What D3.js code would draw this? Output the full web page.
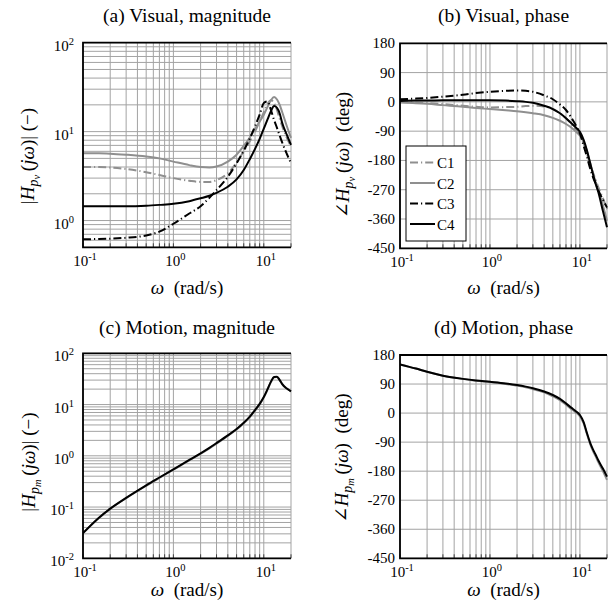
<!DOCTYPE html>
<html><head><meta charset="utf-8">
<script src="https://cdn.jsdelivr.net/npm/d3@7"></script>
<style>body{margin:0;background:#fff}svg{display:block}</style>
</head><body>
<svg id="chart" width="613" height="614"></svg>
<script>
// ---------- data ----------
const omega = [0.1,0.15,0.2,0.3,0.5,0.7,1,1.5,2,2.5,3,4,5,6,7,8,9,10,11,12,13,14,15,16,18,20];
const seriesNames = ["C1","C2","C3","C4"];

// (a) Visual magnitude |H_pv|
const magVisC1 = [4.0,4.0,3.95,3.8,3.5,3.25,3.0,2.8,2.72,2.72,2.85,3.4,4.5,6.0,7.8,10,13,16.5,20.5,22.5,21,17.5,14,11.5,8.5,6.8];
const magVisC2 = [5.7,5.7,5.65,5.5,5.25,5.0,4.6,4.2,4.0,3.95,4.05,4.6,5.5,6.9,8.6,10.7,13,15.5,19,22.5,24.5,23,20,16.5,11.5,8.5];
const magVisC3 = [0.615,0.62,0.625,0.64,0.68,0.75,0.92,1.2,1.45,1.8,2.2,3.1,4.4,6.1,8.4,11.5,15.5,21,21.8,17.5,13.5,11,9,7.5,5.6,4.4];
const magVisC4 = [1.45,1.45,1.45,1.45,1.47,1.5,1.54,1.65,1.78,1.9,2.05,2.4,2.9,3.7,4.9,6.4,8.3,10.8,13.7,17,19.4,18.5,16,12.5,9.2,7.1];

// (b) Visual phase (deg)
const phVisC1 = [0,-2,-4,-7,-12,-15,-17,-16,-15,-13,-12,-14,-22,-35,-50,-67,-85,-100,-128,-160,-192,-218,-240,-262,-296,-330];
const phVisC2 = [-2,-4,-6,-10,-15,-19,-22,-26,-29,-32,-35,-41,-49,-58,-68,-79,-91,-104,-122,-153,-188,-220,-248,-270,-318,-365];
const phVisC3 = [8,10,12,16,22,27,31,34,35,34,31,20,8,-8,-25,-48,-72,-98,-135,-170,-205,-232,-252,-272,-300,-325];
const phVisC4 = [3,4,4,5,5,5,5,4,2,0,-3,-12,-22,-35,-50,-65,-79,-92,-117,-150,-188,-223,-253,-277,-335,-385];

// (c) Motion magnitude |H_pm|
const magMotGray  = [0.031,0.061,0.092,0.149,0.26,0.37,0.535,0.81,1.1,1.4,1.73,2.45,3.25,4.3,5.7,7.6,10.1,13.8,19.6,27.5,34,34.5,30,25,20.5,18];
const magMotBlack = [0.031,0.062,0.093,0.151,0.265,0.377,0.546,0.83,1.12,1.43,1.77,2.5,3.33,4.4,5.8,7.8,10.3,14,20,28,34.5,35,30,25,20.5,18];

// (d) Motion phase (deg)
const phMotGray  = [151,138,128,116,106,100,96,90,85,80,74,64,52,40,26,13,2,-10,-32,-66,-96,-118,-135,-152,-180,-207];
const phMotBlack = [151,138,128,116,106,101,97,92,87,82,77,67,56,44,30,17,6,-6,-28,-63,-92,-113,-130,-146,-172,-197];

const decadeLabels = ["-2","-1","0","1","2"];
const phaseTicks = [180,90,0,-90,-180,-270,-360,-450];

// ---------- drawing ----------
const svg = d3.select("#chart");
svg.append("rect").attr("width",613).attr("height",614).attr("fill","#fff");
const FONT = '"Liberation Serif", "DejaVu Serif", serif';
const GRID = "#a3a3a3";
const GRAY = "#8f8f8f";
const DASH = "8,3,1.2,3";

function txt(sel) { return sel.append("text").style("font-family", FONT); }

const styles = {
  C1:{color:GRAY, dash:DASH},
  C2:{color:GRAY, dash:null},
  C3:{color:"#000", dash:DASH},
  C4:{color:"#000", dash:null},
  G:{color:GRAY, dash:null},
  B:{color:"#000", dash:null}
};

const panels = [
  {id:"a", l:83, r:291, t:42.7, b:247.3, type:"log", yDomain:[0.5,100], title:"(a) Visual, magnitude",
   titleY:21.5, xlabY:294, ylabX:34, ylabY:156, sub:"v", phase:false,
   series:[["C1",magVisC1],["C2",magVisC2],["C3",magVisC3],["C4",magVisC4]]},
  {id:"b", l:400, r:607, t:43.3, b:248.3, type:"lin", yDomain:[-450,180], title:"(b) Visual, phase",
   titleY:21.5, xlabY:294, ylabX:349, ylabY:155, sub:"v", phase:true, legend:true,
   series:[["C1",phVisC1],["C2",phVisC2],["C3",phVisC3],["C4",phVisC4]]},
  {id:"c", l:83, r:291, t:353.3, b:558.3, type:"log", yDomain:[0.01,100], title:"(c) Motion, magnitude",
   titleY:334, xlabY:596, ylabX:35, ylabY:462, sub:"m", phase:false,
   series:[["G",magMotGray],["B",magMotBlack]]},
  {id:"d", l:400, r:607, t:355, b:558.3, type:"lin", yDomain:[-450,180], title:"(d) Motion, phase",
   titleY:334, xlabY:596, ylabX:348, ylabY:458, sub:"m", phase:true,
   series:[["G",phMotGray],["B",phMotBlack]]}
];

panels.forEach(p => {
  const g = svg.append("g");
  const x = d3.scaleLog().domain([0.1,20]).range([p.l,p.r]);
  const y = (p.type==="log" ? d3.scaleLog() : d3.scaleLinear()).domain(p.yDomain).range([p.b,p.t]);

  // grid
  const xg = x.ticks();
  g.selectAll(null).data(xg).enter().append("line")
    .attr("x1",d=>x(d)).attr("x2",d=>x(d)).attr("y1",p.t).attr("y2",p.b)
    .attr("stroke",GRID).attr("stroke-width",1);
  const yg = p.type==="log" ? y.ticks() : phaseTicks;
  g.selectAll(null).data(yg).enter().append("line")
    .attr("x1",p.l).attr("x2",p.r).attr("y1",d=>y(d)).attr("y2",d=>y(d))
    .attr("stroke",GRID).attr("stroke-width",1);

  // small inward ticks on bottom axis
  g.selectAll(null).data(xg).enter().append("line")
    .attr("x1",d=>x(d)).attr("x2",d=>x(d)).attr("y1",p.b).attr("y2",p.b-4)
    .attr("stroke","#444").attr("stroke-width",1);

  // clip
  const clipId = "clip-"+p.id;
  svg.append("clipPath").attr("id",clipId).append("rect")
    .attr("x",p.l).attr("y",p.t).attr("width",p.r-p.l+1).attr("height",p.b-p.t);

  const line = d3.line().x((d,i)=>x(omega[i])).y(d=>y(d)).curve(d3.curveMonotoneX);
  const cg = g.append("g").attr("clip-path",`url(#${clipId})`);
  p.series.forEach(([name,vals]) => {
    const s = styles[name];
    cg.append("path").datum(vals).attr("d",line)
      .attr("fill","none").attr("stroke",s.color).attr("stroke-width",2)
      .attr("stroke-dasharray",s.dash).attr("stroke-linejoin","round");
  });

  // axes frame (left, bottom, top)
  g.append("path").attr("d",`M${p.r},${p.t}H${p.l}V${p.b}H${p.r}`)
    .attr("fill","none").attr("stroke","#000").attr("stroke-width",1.8);

  // x tick labels
  [0.1,1,10].forEach((v,i) => {
    const t = txt(g).attr("x",x(v)+2).attr("y",p.b+19).attr("text-anchor","middle").attr("font-size",15);
    t.append("tspan").text("10");
    t.append("tspan").attr("dy",-6).attr("font-size",10.5).text(decadeLabels[i+1]);
  });

  // y tick labels
  if (p.type==="log") {
    const lo = Math.ceil(Math.log10(p.yDomain[0])), hi = Math.round(Math.log10(p.yDomain[1]));
    for (let k=lo;k<=hi;k++) {
      const t = txt(g).attr("x",p.l-9).attr("y",y(Math.pow(10,k))+8).attr("text-anchor","end").attr("font-size",15);
      t.append("tspan").text("10");
      t.append("tspan").attr("dy",-6).attr("font-size",10.5).text(decadeLabels[k+2]);
    }
  } else {
    phaseTicks.forEach(v => {
      txt(g).attr("x",p.l-5).attr("y",y(v)+5).attr("text-anchor","end").attr("font-size",15).text(String(v));
    });
  }

  // title
  txt(g).attr("x",(p.l+p.r)/2).attr("y",p.titleY).attr("text-anchor","middle")
    .attr("font-size",19.5).text(p.title);

  // x label
  const xl = txt(g).attr("x",(p.l+p.r)/2).attr("y",p.xlabY).attr("text-anchor","middle").attr("font-size",19);
  xl.append("tspan").attr("font-style","italic").text("ω");
  xl.append("tspan").text("\u00a0\u00a0(rad/s)");

  // y label
  const yl = txt(g).attr("transform",`translate(${p.ylabX},${p.ylabY}) rotate(-90)`)
    .attr("text-anchor","middle").attr("font-size",19);
  yl.append("tspan").text(p.phase ? "∠" : "|");
  yl.append("tspan").attr("font-style","italic").text("H");
  yl.append("tspan").attr("font-style","italic").attr("font-size",14).attr("dy",4).text("p");
  yl.append("tspan").attr("font-style","italic").attr("font-size",10.5).attr("dy",2).text(p.sub);
  yl.append("tspan").attr("dy",-6).text("\u2009(");
  yl.append("tspan").attr("font-style","italic").text("jω");
  yl.append("tspan").text(p.phase ? ")\u00a0\u00a0(deg)" : ")|\u00a0(−)");

  // legend
  if (p.legend) {
    const lg = g.append("g");
    lg.append("rect").attr("x",406).attr("y",146).attr("width",60).attr("height",95)
      .attr("fill","#fff").attr("stroke","#000").attr("stroke-width",1);
    seriesNames.forEach((n,i) => {
      const yy = 162.5 + i*20.5;
      const s = styles[n];
      lg.append("line").attr("x1",410).attr("x2",435).attr("y1",yy).attr("y2",yy)
        .attr("stroke",s.color).attr("stroke-width",2).attr("stroke-dasharray",s.dash);
      txt(lg).attr("x",437).attr("y",yy+5.5).attr("font-size",15).text(n);
    });
  }
});
</script>
</body></html>
